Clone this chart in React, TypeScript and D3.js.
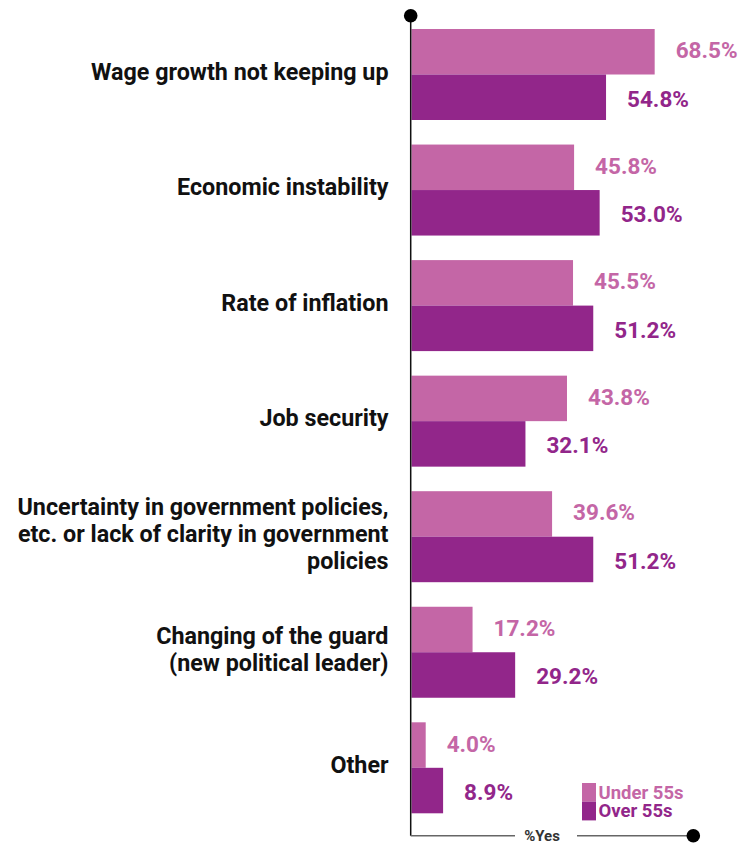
import React from "react";
import * as d3 from "d3";

const categories: string[][] = [
  ["Wage growth not keeping up"],
  ["Economic instability"],
  ["Rate of inflation"],
  ["Job security"],
  ["Uncertainty in government policies,", "etc. or lack of clarity in government", "policies"],
  ["Changing of the guard", "(new political leader)"],
  ["Other"],
];
const under55: number[] = [68.5, 45.8, 45.5, 43.8, 39.6, 17.2, 4.0];
const over55: number[] = [54.8, 53.0, 51.2, 32.1, 51.2, 29.2, 8.9];
const seriesNames: string[] = ["Under 55s", "Over 55s"];
const axisLabel = "%Yes";

const W = 740;
const H = 843;
const COLORS = ["#C466A6", "#92268A"];
const FONT = "Roboto, 'DejaVu Sans', sans-serif";

export default function App() {
  const axisX = 410.7;
  const x = d3.scaleLinear().domain([0, 100]).range([axisX + 0.8, axisX + 0.8 + 355]);
  const keys = categories.map((_, i) => String(i));
  const y = d3
    .scaleBand<string>()
    .domain(keys)
    .range([29, 813.3])
    .paddingInner(0.2125)
    .paddingOuter(0);
  const sub = d3.scaleBand<string>().domain(["0", "1"]).range([0, y.bandwidth()]).padding(0);
  const series = [under55, over55];
  const topY = 15.7;
  const bottomY = 835.7;
  const endX = 693.3;
  const lineH = 26.8;

  return (
    <svg width={W} height={H} style={{ position: "absolute", left: 0, top: 0, background: "#fff" }}>
      {/* bars */}
      {series.map((vals, s) =>
        vals.map((v, i) => (
          <rect
            key={`b-${s}-${i}`}
            x={x(0)}
            y={(y(keys[i]) ?? 0) + (sub(String(s)) ?? 0)}
            width={x(v) - x(0)}
            height={sub.bandwidth()}
            fill={COLORS[s]}
          />
        ))
      )}
      {/* value labels */}
      {series.map((vals, s) =>
        vals.map((v, i) => (
          <text
            key={`v-${s}-${i}`}
            x={x(v) + 21}
            y={(y(keys[i]) ?? 0) + (sub(String(s)) ?? 0) + sub.bandwidth() / 2 + (s === 0 ? -1.5 : 1.5)}
            dy="0.355em"
            fontFamily={FONT}
            fontWeight={700}
            fontSize={22.5}
            fill={COLORS[s]}
          >
            {v.toFixed(1)}%
          </text>
        ))
      )}
      {/* category labels */}
      {categories.map((lines, i) => {
        const cy = (y(keys[i]) ?? 0) + y.bandwidth() / 2;
        const y0 = cy - ((lines.length - 1) * lineH) / 2;
        return (
          <text
            key={`c-${i}`}
            textAnchor="end"
            fontFamily={FONT}
            fontWeight={700}
            fontSize={23.3}
            fill="#111"
          >
            {lines.map((l, j) => (
              <tspan key={j} x={388.5} y={y0 + j * lineH - 3} dy="0.355em">
                {l}
              </tspan>
            ))}
          </text>
        );
      })}
      {/* axes */}
      <line x1={axisX} x2={axisX} y1={topY} y2={bottomY} stroke="#111" strokeWidth={1.5} />
      <circle cx={axisX} cy={topY} r={6.8} fill="#000" />
      <line x1={axisX} x2={515} y1={bottomY} y2={bottomY} stroke="#666" strokeWidth={1.5} />
      <line x1={577} x2={endX} y1={bottomY} y2={bottomY} stroke="#666" strokeWidth={1.5} />
      <circle cx={endX} cy={bottomY} r={6.8} fill="#000" />
      <text
        x={542}
        y={bottomY}
        dy="0.34em"
        textAnchor="middle"
        fontFamily={FONT}
        fontWeight={700}
        fontSize={15}
        fill="#333"
      >
        {axisLabel}
      </text>
      {/* legend */}
      {seriesNames.map((n, s) => (
        <g key={`l-${s}`}>
          <rect x={582} y={783 + s * 18.7} width={14} height={18.7} fill={COLORS[s]} />
          <text
            x={598.5}
            y={783 + s * 18.7 + 9.35}
            dy="0.34em"
            fontFamily={FONT}
            fontWeight={700}
            fontSize={18.5}
            fill={COLORS[s]}
          >
            {n}
          </text>
        </g>
      ))}
    </svg>
  );
}
